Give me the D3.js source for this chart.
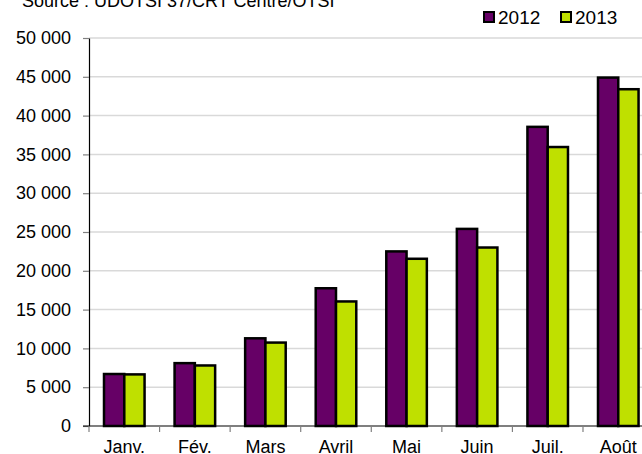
<!DOCTYPE html>
<html>
<head>
<meta charset="utf-8">
<style>
    body { margin: 0; background: #fff; }
    svg { display: block; font-family: "Liberation Sans", Arial, sans-serif; }
    .grid line { stroke: #d9d9d9; stroke-width: 1.5px; }
    .tickLabel { font-size: 18px; fill: #000; }
</style>
</head>
<body>
<script src="https://cdn.jsdelivr.net/npm/d3@7"></script>
<script>
    const months = ["Janv.", "Fév.", "Mars", "Avril", "Mai", "Juin", "Juil.", "Août"];
    const years = ["2012", "2013"];
    const values2012 = [6700, 8100, 11300, 17750, 22500, 25400, 38550, 44900];
    const values2013 = [6650, 7800, 10750, 16050, 21550, 23000, 35950, 43400];
    const yTicks = [0, 5000, 10000, 15000, 20000, 25000, 30000, 35000, 40000, 45000, 50000];
    const colors = ["#660066", "#bfe000"];

    const W = 642, H = 454;
    const plotLeft = 89, plotTop = 38, plotBottom = 426;
    const plotRight = plotLeft + 8 * 70.57;

    const svg = d3.select("body").append("svg").attr("width", W).attr("height", H);

    const x = d3.scaleBand().domain(months).range([plotLeft, plotRight]).paddingInner(0).paddingOuter(0);
    const xInner = d3.scaleBand().domain(years).range([0, x.bandwidth()]).paddingInner(0).paddingOuter(0.74);
    const y = d3.scaleLinear().domain([0, 50000]).range([plotBottom, plotTop]);

    const fmt = v => d3.format(",")(v).replace(/,/g, " ");

    // gridlines
    svg.append("g").attr("class", "grid")
        .selectAll("line").data(yTicks.filter(d => d > 0)).enter().append("line")
        .attr("x1", plotLeft).attr("x2", W)
        .attr("y1", d => y(d)).attr("y2", d => y(d));

    // y axis
    const yAxis = svg.append("g")
        .attr("transform", "translate(" + plotLeft + ",0)")
        .call(d3.axisLeft(y).tickValues(yTicks).tickFormat(fmt).tickSize(6).tickSizeOuter(0));
    yAxis.attr("font-family", null).attr("font-size", null);
    yAxis.select(".domain").attr("stroke", "#000").attr("stroke-width", 1.2);
    yAxis.selectAll(".tick line").attr("stroke", "#808080").attr("stroke-width", 1.2);
    yAxis.selectAll(".tick text").attr("class", "tickLabel").attr("x", -18);

    // bars
    const data = months.map((m, i) => ({month: m, vals: [values2012[i], values2013[i]]}));
    const groups = svg.append("g").selectAll("g").data(data).enter().append("g")
        .attr("transform", d => "translate(" + x(d.month) + ",0)");
    groups.selectAll("rect").data(d => d.vals.map((v, j) => ({year: years[j], v: v, j: j})))
        .enter().append("rect")
        .attr("x", d => xInner(d.year))
        .attr("width", xInner.bandwidth())
        .attr("y", d => y(d.v))
        .attr("height", d => y(0) - y(d.v))
        .attr("fill", d => colors[d.j])
        .attr("stroke", "#000")
        .attr("stroke-width", 2.5);

    // x axis
    const xAxis = svg.append("g").attr("transform", "translate(0," + plotBottom + ")");
    xAxis.append("line").attr("x1", plotLeft - 6).attr("x2", W).attr("stroke", "#000").attr("stroke-width", 1.2);
    xAxis.selectAll(".xt").data(d3.range(months.length + 1)).enter().append("line")
        .attr("x1", i => plotLeft + i * x.step()).attr("x2", i => plotLeft + i * x.step())
        .attr("y1", 0).attr("y2", 6).attr("stroke", "#808080").attr("stroke-width", 1.2);
    xAxis.selectAll("text").data(months).enter().append("text")
        .attr("class", "tickLabel")
        .attr("x", d => x(d) + x.bandwidth() / 2)
        .attr("y", 27)
        .attr("text-anchor", "middle")
        .text(d => d);

    // source
    svg.append("text").attr("class", "tickLabel").attr("x", 22).attr("y", 7)
        .attr("font-size", 18.5)
        .text("Source : UDOTSI 37/CRT Centre/OTSI");

    // legend
    const legendX = [484, 561];
    const legend = svg.append("g").selectAll("g").data(years).enter().append("g")
        .attr("transform", (d, i) => "translate(" + legendX[i] + ",12)");
    legend.append("rect").attr("width", 10).attr("height", 10)
        .attr("fill", (d, i) => colors[i]).attr("stroke", "#000").attr("stroke-width", 2);
    legend.append("text").attr("x", 14).attr("y", 11.5).attr("font-size", 19).text(d => d);
</script>
</body>
</html>
